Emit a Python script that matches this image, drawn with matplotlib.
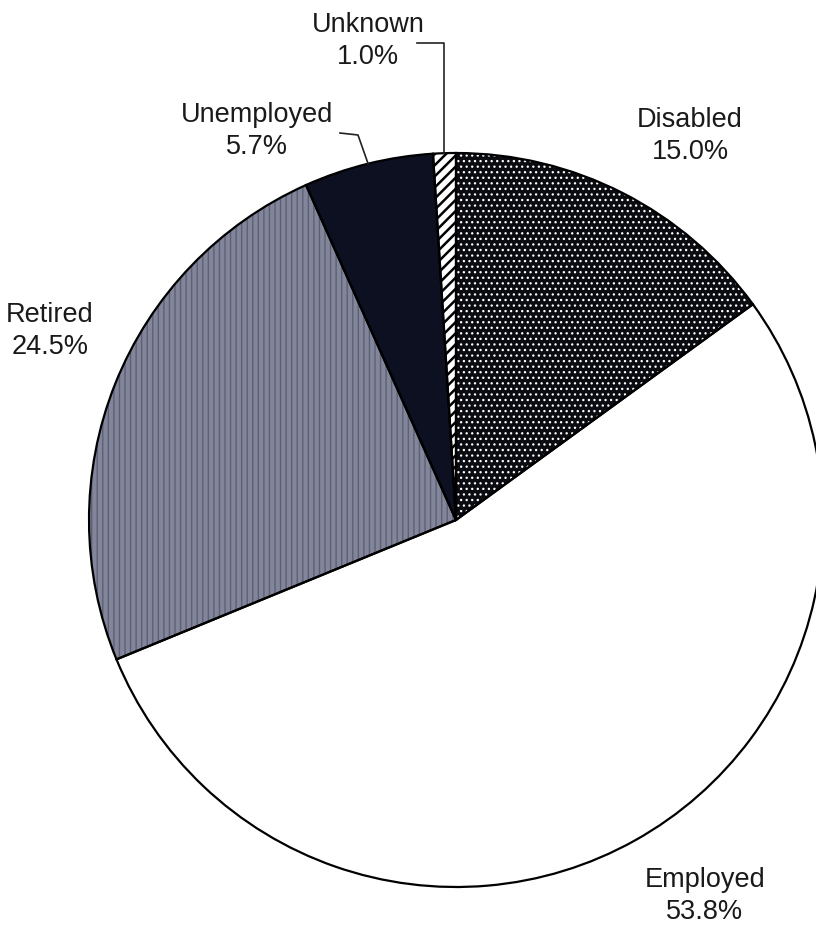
import numpy as np
import matplotlib.pyplot as plt

plt.rcParams['font.family'] = ['Liberation Sans', 'DejaVu Sans']
plt.rcParams['hatch.linewidth'] = 1.6

# employment status, clockwise from 12 o'clock
labels = ['Disabled', 'Employed', 'Retired', 'Unemployed', 'Unknown']
shares = [15.0, 53.8, 24.5, 5.7, 1.0]

fills = ['#0b0c12', 'white', '#83869b', '#0c1020', 'white']
hatch_colors = ['white', 'white', '#5c6074', '#0c1020', 'black']
hatches = ['...', None, '|||', None, '///']
hatch_widths = [0.9, 1.0, 1.0, 1.0, 1.8]

fig = plt.figure(figsize=(8.16, 9.30), dpi=100)
ax = fig.add_axes([0, 0, 1, 1])

cx, cy, r = 456, 410, 367

# textured fill first, then a clean black outline on top
wedges, _ = ax.pie(shares, startangle=90, counterclock=False,
                   center=(cx, cy), radius=r, frame=True)
for w, fc, hc, h, hw in zip(wedges, fills, hatch_colors, hatches, hatch_widths):
    w.set_facecolor(fc)
    w.set_edgecolor(hc)
    w.set_linewidth(0)
    if h:
        w.set_hatch(h)
        if hasattr(w, 'set_hatch_linewidth'):
            w.set_hatch_linewidth(hw)
        else:
            w._hatch_linewidth = hw

ax.pie(shares, startangle=90, counterclock=False,
       center=(cx, cy), radius=r, frame=True,
       wedgeprops=dict(fill=False, edgecolor='black', linewidth=1.6))
ax.set_xlim(0, 816)
ax.set_ylim(0, 930)
ax.set_aspect('equal')
ax.axis('off')

def edge_point(i):
    w = wedges[i]
    a = np.deg2rad((w.theta1 + w.theta2) / 2)
    return cx + r * np.cos(a), cy + r * np.sin(a)

txt = dict(fontsize=19.5, ha='center', va='center', linespacing=1.3, color='#1a1a1a')
ax.text(690, 930 - 136, 'Disabled\n15.0%', **txt)
ax.text(705, 930 - 896, 'Employed\n53.8%', **txt)
ax.text(50, 930 - 331, 'Retired\n24.5%', **txt)
ax.text(257, 930 - 131, 'Unemployed\n5.7%', **txt)
ax.text(368, 930 - 41, 'Unknown\n1.0%', **txt)

# leader lines for the two thin slices
ux, uy = edge_point(4)
ax.plot([417, ux, ux], [930 - 43, 930 - 43, uy], color='#222222', lw=1.2)
ex, ey = edge_point(3)
ax.plot([340, 358, ex], [930 - 133, 930 - 135, ey], color='#222222', lw=1.2)

fig.savefig('out.png', dpi=100, facecolor='white')
